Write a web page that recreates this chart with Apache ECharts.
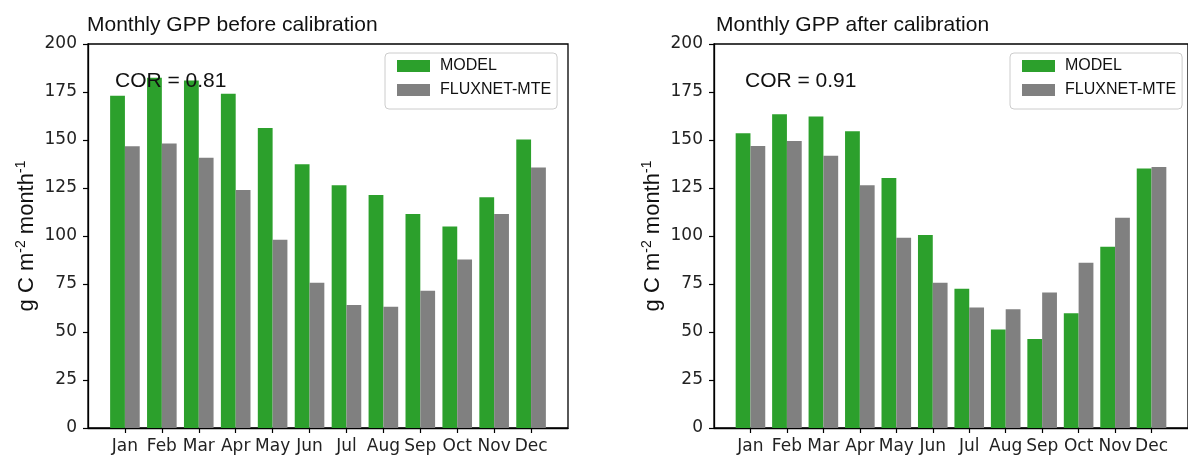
<!DOCTYPE html>
<html>
<head>
<meta charset="utf-8">
<title>Monthly GPP</title>
<script src="https://cdn.jsdelivr.net/npm/echarts@6/dist/echarts.min.js"></script>
<style>
  html, body { margin: 0; padding: 0; background: #fff; }
  #main { width: 1188px; height: 457px; }
</style>
</head>
<body>
<div id="main"></div>
<script>
// months on the x axis
var months = ['Jan', 'Feb', 'Mar', 'Apr', 'May', 'Jun', 'Jul', 'Aug', 'Sep', 'Oct', 'Nov', 'Dec'];
// before calibration
var modelBefore = [173, 182.4, 181, 174.1, 156.2, 137.4, 126.4, 121.4, 111.5, 105, 120.2, 150.3];
var fluxBefore = [146.8, 148.2, 140.7, 124, 98.1, 75.6, 64, 63.1, 71.5, 87.7, 111.5, 135.7];
// after calibration
var modelAfter = [153.5, 163.4, 162.3, 154.5, 130.2, 100.5, 72.5, 51.3, 46.3, 59.8, 94.4, 135.1];
var fluxAfter = [146.9, 149.5, 141.8, 126.4, 99.1, 75.7, 62.8, 61.9, 70.6, 86.1, 109.5, 135.9];
var yTicks = [0, 25, 50, 75, 100, 125, 150, 175, 200];
var titles = ['Monthly GPP before calibration', 'Monthly GPP after calibration'];
var corText = ['COR = 0.81', 'COR = 0.91'];

var GREEN = '#2ca02c';
var GREY = '#808080';
var sans = '"Liberation Sans", Arial, sans-serif';
var dejavu = '"DejaVu Sans", sans-serif';

function pairs(arr) {
  return arr.map(function (v, i) { return [i, v]; });
}
var monthIdx = months.map(function (m, i) { return i; });

var myChart = echarts.init(document.getElementById('main'));

var gridLeft = [88, 714];

function xAxisFor(gi) {
  return {
    type: 'value',
    gridIndex: gi,
    min: -1,
    max: 12,
    interval: 1,
    splitLine: { show: false },
    axisLine: { show: true, onZero: false, lineStyle: { color: '#000', width: 1.3 } },
    axisTick: { show: true, customValues: monthIdx, length: 5, lineStyle: { color: '#000', width: 1.2 } },
    axisLabel: {
      customValues: monthIdx,
      margin: 10,
      fontFamily: dejavu,
      fontSize: 17,
      color: '#222',
      formatter: function (v) { return months[v] || ''; }
    }
  };
}

function yAxisFor(gi) {
  return {
    type: 'value',
    gridIndex: gi,
    min: yTicks[0],
    max: yTicks[yTicks.length - 1],
    interval: 25,
    splitLine: { show: false },
    axisLine: { show: true, onZero: false, lineStyle: { color: '#000', width: 1.3 } },
    axisTick: { show: true, length: 5, lineStyle: { color: '#000', width: 1.2 } },
    axisLabel: { margin: 11, fontFamily: dejavu, fontSize: 17, color: '#222' },
    name: '{n|g C m}{s|-2}{n| month}{s|-1}',
    nameLocation: 'middle',
    nameGap: 48,
    nameRotate: 90,
    nameTextStyle: {
      rich: {
        n: { fontFamily: sans, fontSize: 22, color: '#111', lineHeight: 26 },
        s: { fontFamily: sans, fontSize: 14, color: '#111', lineHeight: 26, verticalAlign: 'top' }
      }
    }
  };
}

function legendFor(x) {
  return {
    left: x,
    top: 53,
    orient: 'vertical',
    data: ['MODEL', 'FLUXNET-MTE'],
    icon: 'rect',
    itemWidth: 33,
    itemHeight: 12,
    itemGap: 8,
    padding: [5, 6, 11, 12],
    borderColor: '#cccccc',
    borderWidth: 1,
    borderRadius: 4,
    backgroundColor: 'rgba(255,255,255,0.85)',
    selectedMode: false,
    textStyle: { fontFamily: sans, fontSize: 16, color: '#111', lineHeight: 16, padding: [0, 0, 0, 5] }
  };
}

function barSeries(name, data, gi, color) {
  return {
    name: name,
    type: 'bar',
    xAxisIndex: gi,
    yAxisIndex: gi,
    data: pairs(data),
    barWidth: 14.8,
    barGap: '0%',
    itemStyle: { color: color },
    emphasis: { disabled: true }
  };
}

var option = {
  animation: false,
  textStyle: { fontFamily: sans },
  title: [
    { text: titles[0], left: 82, top: 10, textStyle: { fontFamily: sans, fontSize: 21, fontWeight: 'normal', color: '#111' } },
    { text: titles[1], left: 711, top: 10, textStyle: { fontFamily: sans, fontSize: 21, fontWeight: 'normal', color: '#111' } },
    { text: corText[0], left: 110, top: 66, textStyle: { fontFamily: sans, fontSize: 21, fontWeight: 'normal', color: '#111' } },
    { text: corText[1], left: 740, top: 66, textStyle: { fontFamily: sans, fontSize: 21, fontWeight: 'normal', color: '#111' } }
  ],
  legend: [legendFor(385), legendFor(1010)],
  grid: [
    { left: gridLeft[0], top: 44, width: 480, height: 384, show: true, borderColor: '#000', borderWidth: 1.3, backgroundColor: 'transparent' },
    { left: gridLeft[1], top: 44, width: 480, height: 384, show: true, borderColor: '#000', borderWidth: 1.3, backgroundColor: 'transparent' }
  ],
  xAxis: [xAxisFor(0), xAxisFor(1)],
  yAxis: [yAxisFor(0), yAxisFor(1)],
  series: [
    barSeries('MODEL', modelBefore, 0, GREEN),
    barSeries('FLUXNET-MTE', fluxBefore, 0, GREY),
    barSeries('MODEL', modelAfter, 1, GREEN),
    barSeries('FLUXNET-MTE', fluxAfter, 1, GREY)
  ]
};
myChart.setOption(option);
</script>
</body>
</html>
